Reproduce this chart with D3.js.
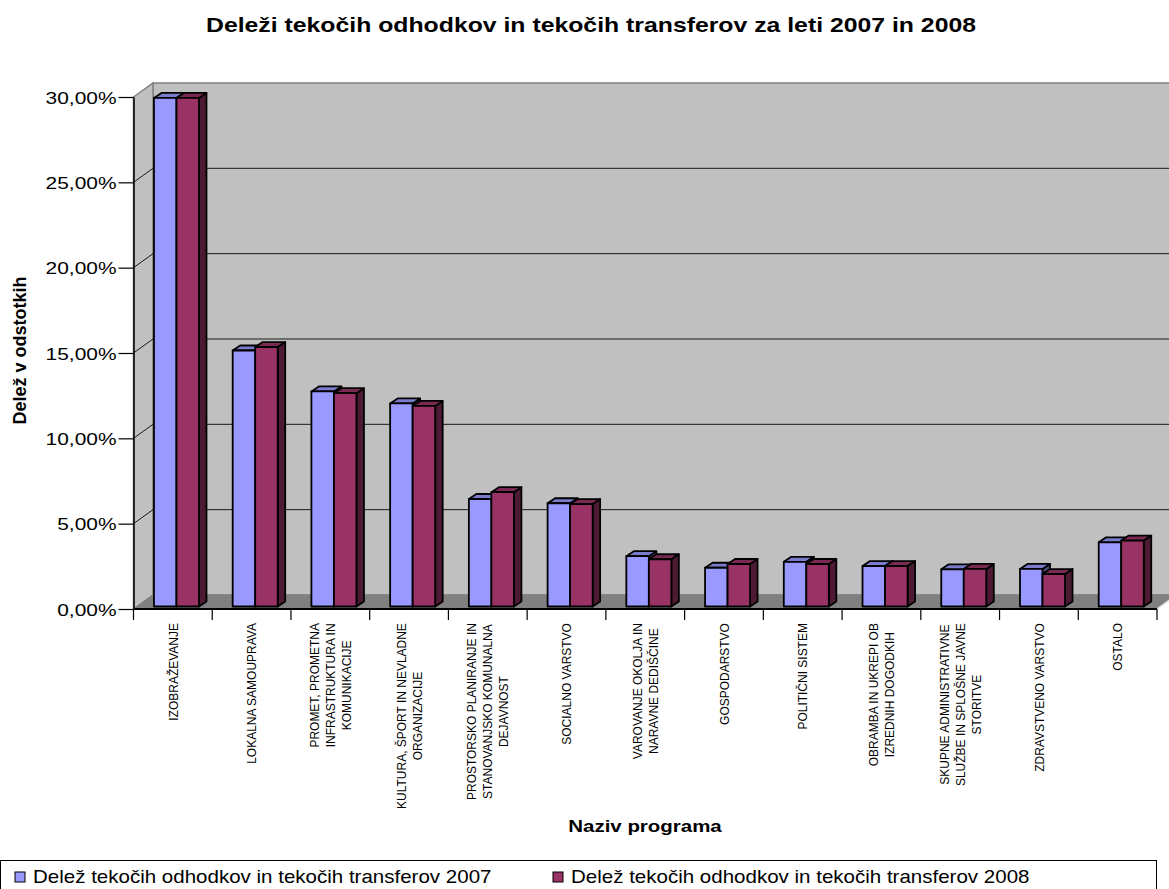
<!DOCTYPE html>
<html>
<head>
<meta charset="utf-8">
<script src="https://cdn.jsdelivr.net/npm/d3@7"></script>
<style>
  body { margin: 0; background: #fff; }
  svg { display: block; }
  text { font-family: "Liberation Sans", Arial, sans-serif; fill: #000; }
</style>
</head>
<body>
<svg id="chart" width="1169" height="889"></svg>
<script>
// ---- data ----
const categories = [
  "IZOBRAŽEVANJE",
  "LOKALNA SAMOUPRAVA",
  "PROMET, PROMETNA\nINFRASTRUKTURA IN\nKOMUNIKACIJE",
  "KULTURA, ŠPORT IN NEVLADNE\nORGANIZACIJE",
  "PROSTORSKO PLANIRANJE IN\nSTANOVANJSKO KOMUNALNA\nDEJAVNOST",
  "SOCIALNO VARSTVO",
  "VAROVANJE OKOLJA IN\nNARAVNE DEDIŠČINE",
  "GOSPODARSTVO",
  "POLITIČNI SISTEM",
  "OBRAMBA IN UKREPI OB\nIZREDNIH DOGODKIH",
  "SKUPNE ADMINISTRATIVNE\nSLUŽBE IN SPLOŠNE JAVNE\nSTORITVE",
  "ZDRAVSTVENO VARSTVO",
  "OSTALO"
];
const seriesNames = [
  "Delež tekočih odhodkov in tekočih transferov 2007",
  "Delež tekočih odhodkov in tekočih transferov 2008"
];
const values2007 = [29.8, 15.0, 12.6, 11.9, 6.3, 6.05, 2.95, 2.27, 2.62, 2.37, 2.18, 2.2, 3.76];
const values2008 = [29.8, 15.2, 12.5, 11.75, 6.7, 6.0, 2.77, 2.49, 2.49, 2.37, 2.2, 1.9, 3.86];
const yTicks = [0, 5, 10, 15, 20, 25, 30];
const chartTitle = "Deleži tekočih odhodkov in tekočih transferov za leti 2007 in 2008";
const yTitle = "Delež v odstotkih";
const xTitle = "Naziv programa";

// ---- styling ----
const seriesColors = [
  { front: "#9999FF", top: "#7B7BCC", side: "#4D4D80" },
  { front: "#993366", top: "#7A2952", side: "#4D1A33" }
];
const wallFill = "#C0C0C0", floorFill = "#808080", wallEdge = "#808080";

// ---- geometry ----
const svg = d3.select("#chart");
const left = 133.5, right = 1157, base = 609, topY = 97;
const wallDepth = { dx: 19.5, dy: 14 };   // offset of back wall from front plane
const barShift = { dx: 3.6, dy: 2.5 };    // bars sit slightly behind front plane
const barDepth = { dx: 7.5, dy: 5 };

const x = d3.scaleBand().domain(categories).range([left, right])
  .paddingInner(0.428).paddingOuter(0.214);
const xs = d3.scaleBand().domain([0, 1]).range([0, x.bandwidth()]);
const y = d3.scaleLinear().domain([0, 30]).range([base, topY]);

const locale = d3.formatLocale({ decimal: ",", thousands: ".", grouping: [3], currency: ["", " €"] });
const fmt = locale.format(".2f");

const pts = arr => arr.map(p => p.join(",")).join(" ");

// ---- walls & floor ----
const walls = svg.append("g");
walls.append("rect")
  .attr("x", left + wallDepth.dx).attr("y", y(30) - wallDepth.dy)
  .attr("width", right - left).attr("height", y(0) - y(30))
  .attr("fill", wallFill).attr("stroke", wallEdge).attr("stroke-width", 1.5);
walls.append("polygon")
  .attr("points", pts([[left, y(30)], [left + wallDepth.dx, y(30) - wallDepth.dy],
                       [left + wallDepth.dx, y(0) - wallDepth.dy], [left, y(0)]]))
  .attr("fill", wallFill).attr("stroke", wallEdge).attr("stroke-width", 1.5);

// gridlines along side and back wall
const grid = walls.append("g").attr("stroke", "#1a1a1a").attr("stroke-width", 1);
yTicks.filter(t => t > 0 && t < 30).forEach(t => {
  grid.append("line")
    .attr("x1", left).attr("y1", y(t))
    .attr("x2", left + wallDepth.dx).attr("y2", y(t) - wallDepth.dy);
  grid.append("line")
    .attr("x1", left + wallDepth.dx).attr("y1", y(t) - wallDepth.dy)
    .attr("x2", right + wallDepth.dx).attr("y2", y(t) - wallDepth.dy);
});

walls.append("polygon")
  .attr("points", pts([[left, y(0)], [right, y(0)],
                       [right + wallDepth.dx, y(0) - wallDepth.dy], [left + wallDepth.dx, y(0) - wallDepth.dy]]))
  .attr("fill", floorFill).attr("stroke", floorFill).attr("stroke-width", 1);
walls.append("line")
  .attr("x1", right).attr("y1", y(0))
  .attr("x2", right + wallDepth.dx).attr("y2", y(0) - wallDepth.dy)
  .attr("stroke", "#e8e8e8").attr("stroke-width", 1.5);

// ---- bars ----
const rows = categories.map((c, i) => ({ cat: c, vals: [values2007[i], values2008[i]] }));
const barLayer = svg.append("g")
  .attr("stroke", "#000").attr("stroke-width", 1.8).attr("stroke-linejoin", "round");

rows.forEach(r => {
  r.vals.forEach((v, s) => {
    const fx = x(r.cat) + xs(s) + barShift.dx;
    const w = xs.bandwidth();
    const t = y(v) - barShift.dy;
    const b = y(0) - barShift.dy;
    const col = seriesColors[s];
    const g = barLayer.append("g");
    g.append("polygon")
      .attr("points", pts([[fx + w, t], [fx + w + barDepth.dx, t - barDepth.dy],
                           [fx + w + barDepth.dx, b - barDepth.dy], [fx + w, b]]))
      .attr("fill", col.side);
    g.append("polygon")
      .attr("points", pts([[fx, t], [fx + w, t], [fx + w + barDepth.dx, t - barDepth.dy],
                           [fx + barDepth.dx, t - barDepth.dy]]))
      .attr("fill", col.top);
    g.append("rect")
      .attr("x", fx).attr("y", t).attr("width", w).attr("height", b - t)
      .attr("fill", col.front);
  });
});

// ---- value axis ----
const yAxis = svg.append("g")
  .attr("transform", `translate(${left},0)`)
  .call(d3.axisLeft(y).tickValues(yTicks).tickSize(15).tickSizeOuter(0)
        .tickFormat(d => fmt(d) + "%"));
yAxis.select(".domain").attr("stroke", "#000").attr("stroke-width", 1.5);
yAxis.selectAll(".tick line").attr("stroke", "#000").attr("stroke-width", 1.2);
yAxis.selectAll(".tick text")
  .attr("x", 0).attr("dy", "0.36em")
  .attr("transform", "translate(-17,0) scale(1.23,1)")
  .attr("text-anchor", "end")
  .style("font-size", "17px").style("font-family", "'Liberation Sans', Arial, sans-serif");

// ---- category axis ----
const xAxis = svg.append("g");
xAxis.append("line")
  .attr("x1", left).attr("x2", right).attr("y1", base).attr("y2", base)
  .attr("stroke", "#000").attr("stroke-width", 1.8);
xAxis.selectAll("line.tick")
  .data(d3.range(categories.length + 1))
  .join("line").attr("class", "tick")
  .attr("x1", i => left + i * x.step()).attr("x2", i => left + i * x.step())
  .attr("y1", base).attr("y2", base + 11)
  .attr("stroke", "#000").attr("stroke-width", 1.2);

const labelSize = 12, labelStretch = 1.08, lineGap = 16, labelTop = 623;
categories.forEach(c => {
  const lines = c.split("\n");
  const cx = x(c) + x.bandwidth() / 2;
  const g = xAxis.append("g");
  const texts = lines.map((ln, k) => g.append("text")
    .attr("text-anchor", "middle")
    .style("font-size", labelSize + "px")
    .attr("x", 0)
    .attr("y", ((k - (lines.length - 1) / 2) * lineGap) / labelStretch + 0.36 * labelSize)
    .text(ln));
  const L = d3.max(texts, t => t.node().getComputedTextLength());
  g.attr("transform", `translate(${cx},${labelTop + L / 2}) scale(${labelStretch},1) rotate(-90)`);
});

// ---- titles ----
svg.append("text")
  .attr("transform", "translate(591,32) scale(1.24,1)")
  .attr("text-anchor", "middle")
  .style("font-size", "20px").style("font-weight", "bold")
  .text(chartTitle);

svg.append("text")
  .attr("transform", "translate(645,832) scale(1.28,1)")
  .attr("text-anchor", "middle")
  .style("font-size", "16px").style("font-weight", "bold")
  .text(xTitle);

svg.append("text")
  .attr("transform", "translate(26,350.5) rotate(-90)")
  .attr("text-anchor", "middle")
  .style("font-size", "18px").style("font-weight", "bold")
  .text(yTitle);

// ---- legend ----
const legend = svg.append("g");
legend.append("rect")
  .attr("x", 0.5).attr("y", 860.5).attr("width", 1156).attr("height", 40)
  .attr("fill", "#fff").attr("stroke", "#000").attr("stroke-width", 1);
const legendX = [15, 553];
seriesNames.forEach((name, s) => {
  legend.append("rect")
    .attr("x", legendX[s]).attr("y", 872).attr("width", 10).attr("height", 10)
    .attr("fill", seriesColors[s].front).attr("stroke", "#000").attr("stroke-width", 1);
  legend.append("text")
    .attr("transform", `translate(${legendX[s] + 18},883) scale(1.14,1)`)
    .style("font-size", "18px")
    .text(name);
});
</script>
</body>
</html>
